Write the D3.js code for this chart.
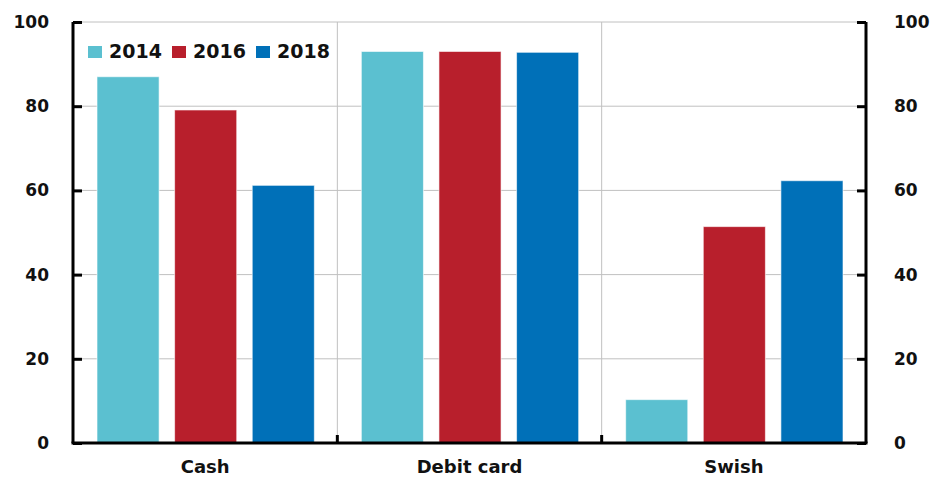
<!DOCTYPE html>
<html>
<head>
<meta charset="utf-8">
<script src="https://cdn.jsdelivr.net/npm/d3@7"></script>
<style>
  body { margin: 0; background: #fff; }
  text { font-family: "DejaVu Sans", Verdana, sans-serif; font-weight: bold; fill: #111; }
</style>
</head>
<body>
<svg id="chart"></svg>
<script>
let categories = ["Cash", "Debit card", "Swish"];
let years = ["2014", "2016", "2018"];
let values2014 = [87, 93, 10.3];
let values2016 = [79.1, 93, 51.4];
let values2018 = [61.2, 92.8, 62.3];
let yTicks = [0, 20, 40, 60, 80, 100];
let colors = ["#5bc0d0", "#b81f2c", "#0070b8"];

let width = 931, height = 477;
let margin = {top: 22, right: 65, bottom: 34, left: 73};

let svg = d3.select("#chart")
  .attr("width", width)
  .attr("height", height);

let series = [values2014, values2016, values2018];

let x = d3.scaleBand()
  .domain(categories)
  .range([margin.left, width - margin.right])
  .paddingInner(0)
  .paddingOuter(0);

let xInner = d3.scaleBand()
  .domain(years)
  .range([24, x.bandwidth() - 23])
  .paddingInner(0.2)
  .paddingOuter(0);

let y = d3.scaleLinear()
  .domain([0, 100])
  .range([height - margin.bottom, margin.top]);

// horizontal gridlines
svg.append("g")
  .selectAll("line")
  .data(yTicks.filter(d => d > 0))
  .join("line")
  .attr("x1", margin.left)
  .attr("x2", width - margin.right)
  .attr("y1", d => y(d))
  .attr("y2", d => y(d))
  .attr("stroke", "#c0c0c0")
  .attr("stroke-width", 1);

// vertical separators between categories
svg.append("g")
  .selectAll("line")
  .data(categories.slice(1))
  .join("line")
  .attr("x1", d => x(d))
  .attr("x2", d => x(d))
  .attr("y1", y(100))
  .attr("y2", y(0))
  .attr("stroke", "#c0c0c0")
  .attr("stroke-width", 1);

// bars
let groups = svg.append("g")
  .selectAll("g")
  .data(categories)
  .join("g")
  .attr("transform", d => `translate(${x(d)},0)`);

groups.selectAll("rect")
  .data((c, i) => years.map((yr, j) => ({year: yr, value: series[j][i], color: colors[j]})))
  .join("rect")
  .attr("x", d => xInner(d.year))
  .attr("width", xInner.bandwidth())
  .attr("y", d => y(d.value))
  .attr("height", d => y(0) - y(d.value))
  .attr("fill", d => d.color)
  .attr("stroke", "rgba(255,255,255,0.6)")
  .attr("stroke-width", 1);

function styleText(g, size) {
  g.selectAll(".tick text").attr("font-size", size).attr("fill", "#111")
    .attr("font-family", "'DejaVu Sans', Verdana, sans-serif").attr("font-weight", "bold");
}

// left axis
let leftAxis = d3.axisLeft(y).tickValues(yTicks).tickSize(-9).tickPadding(24).tickFormat(d3.format("d"));
let gl = svg.append("g")
  .attr("transform", `translate(${margin.left},0)`)
  .call(leftAxis);
gl.select(".domain").attr("d", `M0,${y(100)}V${y(0)}`).attr("stroke", "#000").attr("stroke-width", 3);
gl.selectAll(".tick line").attr("stroke", "#000").attr("stroke-width", 3);
styleText(gl, 17);

// right axis
let rightAxis = d3.axisRight(y).tickValues(yTicks).tickSize(-9).tickPadding(28).tickFormat(d3.format("d"));
let gr = svg.append("g")
  .attr("transform", `translate(${width - margin.right},0)`)
  .call(rightAxis);
gr.select(".domain").attr("d", `M0,${y(100)}V${y(0)}`).attr("stroke", "#000").attr("stroke-width", 3);
gr.selectAll(".tick line").attr("stroke", "#000").attr("stroke-width", 3);
styleText(gr, 17);

// bottom axis
let bottomAxis = d3.axisBottom(x).tickSize(0).tickPadding(17);
let gb = svg.append("g")
  .attr("transform", `translate(0,${y(0)})`)
  .call(bottomAxis);
gb.select(".domain").attr("d", `M${margin.left - 1.5},0H${width - margin.right + 1.5}`).attr("stroke", "#000").attr("stroke-width", 3);
styleText(gb, 18);

// small ticks at category boundaries
gb.append("g")
  .selectAll("line")
  .data(categories.slice(1))
  .join("line")
  .attr("x1", d => x(d))
  .attr("x2", d => x(d))
  .attr("y1", 0)
  .attr("y2", -8)
  .attr("stroke", "#000")
  .attr("stroke-width", 3);

// legend
let legendX = [88, 172, 256];
let legend = svg.append("g")
  .selectAll("g")
  .data(years)
  .join("g")
  .attr("transform", (d, i) => `translate(${legendX[i]},46)`);
legend.append("rect")
  .attr("width", 14)
  .attr("height", 12)
  .attr("fill", (d, i) => colors[i]);
legend.append("text")
  .attr("x", 21)
  .attr("y", 12)
  .attr("font-size", 19)
  .text(d => d);
</script>
</body>
</html>
